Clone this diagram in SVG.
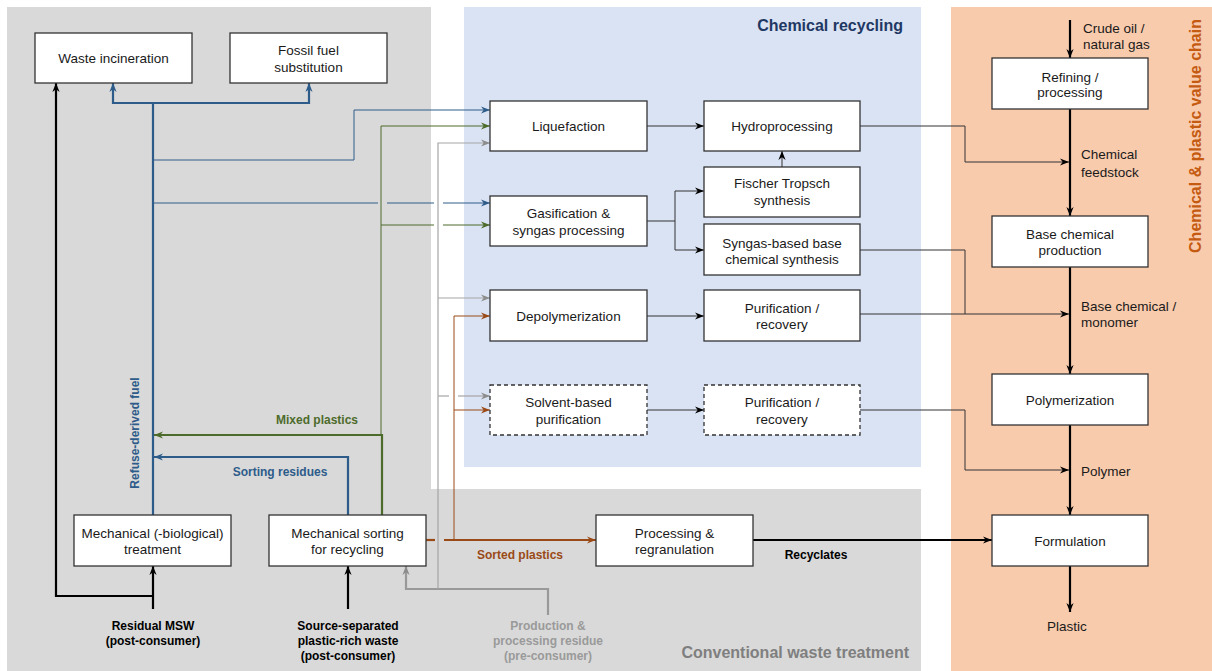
<svg xmlns="http://www.w3.org/2000/svg" width="1212" height="671" viewBox="0 0 1212 671">
<style>
.n rect{fill:#fff;stroke:#333;stroke-width:1.3}
.n rect.d{stroke-dasharray:4 3}
text{font-family:"Liberation Sans",Arial,sans-serif}
.t{font-size:13.5px;fill:#1a1a1a;text-anchor:middle}
.r{font-size:13.5px;fill:#1a1a1a}
.b{font-size:12px;font-weight:bold;text-anchor:middle}
.h{font-size:16px;font-weight:bold}
.c path{fill:none}
.k2{stroke:#000;stroke-width:2.2}
.k1{stroke:#333;stroke-width:1}
.u2{stroke:#2E5C8A;stroke-width:2.2}
.u1{stroke:#2E5C8A;stroke-width:1}
.g2{stroke:#4D6B2B;stroke-width:2.2}
.g1{stroke:#4D6B2B;stroke-width:1}
.y2{stroke:#999;stroke-width:2.2}
.y1{stroke:#a5a5a5;stroke-width:1.2}
.o2{stroke:#9A4A17;stroke-width:2.2}
.o1{stroke:#9A4A17;stroke-width:1}
</style>
<defs>
<marker id="mk" viewBox="0 0 10 10" refX="10" refY="5" markerWidth="9" markerHeight="9" markerUnits="userSpaceOnUse" orient="auto"><path d="M0,1 L10,5 L0,9 L3,5 z" fill="#000"/></marker>
<marker id="mu" viewBox="0 0 10 10" refX="10" refY="5" markerWidth="9" markerHeight="9" markerUnits="userSpaceOnUse" orient="auto"><path d="M0,1 L10,5 L0,9 L3,5 z" fill="#2E5C8A"/></marker>
<marker id="mg" viewBox="0 0 10 10" refX="10" refY="5" markerWidth="9" markerHeight="9" markerUnits="userSpaceOnUse" orient="auto"><path d="M0,1 L10,5 L0,9 L3,5 z" fill="#4D6B2B"/></marker>
<marker id="my" viewBox="0 0 10 10" refX="10" refY="5" markerWidth="9" markerHeight="9" markerUnits="userSpaceOnUse" orient="auto"><path d="M0,1 L10,5 L0,9 L3,5 z" fill="#8c8c8c"/></marker>
<marker id="mo" viewBox="0 0 10 10" refX="10" refY="5" markerWidth="9" markerHeight="9" markerUnits="userSpaceOnUse" orient="auto"><path d="M0,1 L10,5 L0,9 L3,5 z" fill="#9A4A17"/></marker>
</defs>
<rect width="1212" height="671" fill="#fff"/>
<g id="regions">
<path d="M7,7 H431 V489 H921 V671 H7 Z" fill="#d9d9d9"/>
<rect x="464" y="7" width="457" height="460" fill="#dae3f3"/>
<rect x="951" y="7" width="261" height="664" fill="#f8cbad"/>
<text class="h" x="903" y="31" fill="#1f3864" text-anchor="end">Chemical recycling</text>
<text class="h" x="909" y="658" fill="#7f7f7f" text-anchor="end">Conventional waste treatment</text>
<text class="h" transform="translate(1201,136) rotate(-90)" fill="#c55a11" text-anchor="middle">Chemical &amp; plastic value chain</text>
</g>
<g id="connectors" class="c">
<path class="k2" d="M1070,20 V58" marker-end="url(#mk)"/>
<path class="k2" d="M1070,109 V216" marker-end="url(#mk)"/>
<path class="k2" d="M1070,267 V374" marker-end="url(#mk)"/>
<path class="k2" d="M1070,425 V515" marker-end="url(#mk)"/>
<path class="k2" d="M1070,566 V612" marker-end="url(#mk)"/>
<path class="k2" d="M753,540 H992" marker-end="url(#mk)"/>
<path class="k2" d="M153,609 V566" marker-end="url(#mk)"/>
<path class="k2" d="M153,596 H56 V83" marker-end="url(#mk)"/>
<path class="k2" d="M348,609 V566" marker-end="url(#mk)"/>
<path class="k1" d="M860,126 H965 V162 H1069" marker-end="url(#mk)"/>
<path class="k1" d="M860,250 H965 V314"/>
<path class="k1" d="M860,314 H1069" marker-end="url(#mk)"/>
<path class="k1" d="M860,410 H965 V470 H1069" marker-end="url(#mk)"/>
<path class="k1" d="M647,126 H704" marker-end="url(#mk)"/>
<path class="k1" d="M647,221 H675 M675,191 V250"/>
<path class="k1" d="M675,191 H704" marker-end="url(#mk)"/>
<path class="k1" d="M675,250 H704" marker-end="url(#mk)"/>
<path class="k1" d="M782,167 V151" marker-end="url(#mk)"/>
<path class="k1" d="M647,316 H704" marker-end="url(#mk)"/>
<path class="k1" d="M647,410 H704" marker-end="url(#mk)"/>
<path class="u2" d="M153,515 V103"/>
<path class="u2" d="M153,103 H113 V83" marker-end="url(#mu)"/>
<path class="u2" d="M153,103 H309 V83" marker-end="url(#mu)"/>
<path class="u2" d="M348,515 V457 H154" marker-end="url(#mu)"/>
<path class="u1" d="M153,160 H354 V110 H490" marker-end="url(#mu)"/>
<path class="u1" d="M153,203 H378 M387,203 H434"/>
<path class="u1" d="M443,203 H490" marker-end="url(#mu)"/>
<path class="g2" d="M382,515 V435 H154" marker-end="url(#mg)"/>
<path class="g1" d="M381,435 V126 H490" marker-end="url(#mg)"/>
<path class="g1" d="M381,225 H434"/>
<path class="g1" d="M443,225 H490" marker-end="url(#mg)"/>
<path class="y2" d="M548,615 V589 H406 V566" marker-end="url(#my)"/>
<path class="y1" d="M438,589 V143 H490" marker-end="url(#my)"/>
<path class="y1" d="M438,298 H490" marker-end="url(#my)"/>
<path class="y1" d="M438,396 H449"/>
<path class="y1" d="M458,396 H490" marker-end="url(#my)"/>
<path class="o2" d="M426,540 H435"/>
<path class="o2" d="M444,540 H596" marker-end="url(#mo)"/>
<path class="o1" d="M454,540 V316 H490" marker-end="url(#mo)"/>
<path class="o1" d="M454,410 H490" marker-end="url(#mo)"/>
</g>
<g id="connector-labels">
<text class="b" x="317" y="424" fill="#4D6B2B">Mixed plastics</text>
<text class="b" x="280" y="476" fill="#2E5C8A">Sorting residues</text>
<text class="b" transform="translate(139,433) rotate(-90)" fill="#2E5C8A">Refuse-derived fuel</text>
<text class="b" x="520" y="559" fill="#9A4A17">Sorted plastics</text>
<text class="b" x="816" y="559" fill="#000">Recyclates</text>
<text class="b" fill="#000"><tspan x="153" y="630">Residual MSW</tspan><tspan x="153" y="645">(post-consumer)</tspan></text>
<text class="b" fill="#000"><tspan x="348" y="630">Source-separated</tspan><tspan x="348" y="645">plastic-rich waste</tspan><tspan x="348" y="660">(post-consumer)</tspan></text>
<text class="b" fill="#9a9a9a"><tspan x="548" y="630">Production &amp;</tspan><tspan x="548" y="645">processing residue</tspan><tspan x="548" y="660">(pre-consumer)</tspan></text>
<text class="r"><tspan x="1083" y="33">Crude oil /</tspan><tspan x="1083" y="49">natural gas</tspan></text>
<text class="r"><tspan x="1081" y="159">Chemical</tspan><tspan x="1081" y="177">feedstock</tspan></text>
<text class="r"><tspan x="1081" y="311">Base chemical /</tspan><tspan x="1081" y="327">monomer</tspan></text>
<text class="r" x="1081" y="476">Polymer</text>
<text class="t" x="1067" y="631">Plastic</text>
</g>
<g id="n-incineration" class="n"><rect x="35" y="33" width="157" height="50"/><text class="t" x="113.5" y="63">Waste incineration</text></g>
<g id="n-fossil" class="n"><rect x="230" y="33" width="157" height="50"/><text class="t"><tspan x="308.5" y="55">Fossil fuel</tspan><tspan x="308.5" y="72">substitution</tspan></text></g>
<g id="n-liquefaction" class="n"><rect x="490" y="101" width="157" height="50"/><text class="t" x="568.5" y="131">Liquefaction</text></g>
<g id="n-hydro" class="n"><rect x="704" y="101" width="156" height="50"/><text class="t" x="782" y="131">Hydroprocessing</text></g>
<g id="n-ft" class="n"><rect x="704" y="167" width="156" height="50"/><text class="t"><tspan x="782" y="188">Fischer Tropsch</tspan><tspan x="782" y="205">synthesis</tspan></text></g>
<g id="n-gasification" class="n"><rect x="490" y="196" width="157" height="50"/><text class="t"><tspan x="568.5" y="218">Gasification &amp;</tspan><tspan x="568.5" y="235">syngas processing</tspan></text></g>
<g id="n-syngas" class="n"><rect x="704" y="224" width="156" height="51"/><text class="t"><tspan x="782" y="247.5">Syngas-based base</tspan><tspan x="782" y="264">chemical synthesis</tspan></text></g>
<g id="n-depoly" class="n"><rect x="490" y="290" width="157" height="51"/><text class="t" x="568.5" y="321">Depolymerization</text></g>
<g id="n-purif1" class="n"><rect x="704" y="290" width="156" height="51"/><text class="t"><tspan x="782" y="313">Purification /</tspan><tspan x="782" y="329">recovery</tspan></text></g>
<g id="n-solvent" class="n"><rect class="d" x="490" y="385" width="157" height="50"/><text class="t"><tspan x="568.5" y="407">Solvent-based</tspan><tspan x="568.5" y="424">purification</tspan></text></g>
<g id="n-purif2" class="n"><rect class="d" x="704" y="385" width="156" height="50"/><text class="t"><tspan x="782" y="407">Purification /</tspan><tspan x="782" y="424">recovery</tspan></text></g>
<g id="n-refining" class="n"><rect x="992" y="58" width="156" height="51"/><text class="t"><tspan x="1070" y="82">Refining /</tspan><tspan x="1070" y="97">processing</tspan></text></g>
<g id="n-basechem" class="n"><rect x="992" y="216" width="156" height="51"/><text class="t"><tspan x="1070" y="239">Base chemical</tspan><tspan x="1070" y="255">production</tspan></text></g>
<g id="n-polymerization" class="n"><rect x="992" y="374" width="156" height="51"/><text class="t" x="1070" y="405">Polymerization</text></g>
<g id="n-formulation" class="n"><rect x="992" y="515" width="156" height="51"/><text class="t" x="1070" y="546">Formulation</text></g>
<g id="n-mbt" class="n"><rect x="74" y="515" width="157" height="51"/><text class="t"><tspan x="152.5" y="538">Mechanical (-biological)</tspan><tspan x="152.5" y="554">treatment</tspan></text></g>
<g id="n-sorting" class="n"><rect x="269" y="515" width="157" height="51"/><text class="t"><tspan x="347.5" y="538">Mechanical sorting</tspan><tspan x="347.5" y="554">for recycling</tspan></text></g>
<g id="n-regranulation" class="n"><rect x="596" y="515" width="157" height="51"/><text class="t"><tspan x="674.5" y="538">Processing &amp;</tspan><tspan x="674.5" y="554">regranulation</tspan></text></g>
</svg>
